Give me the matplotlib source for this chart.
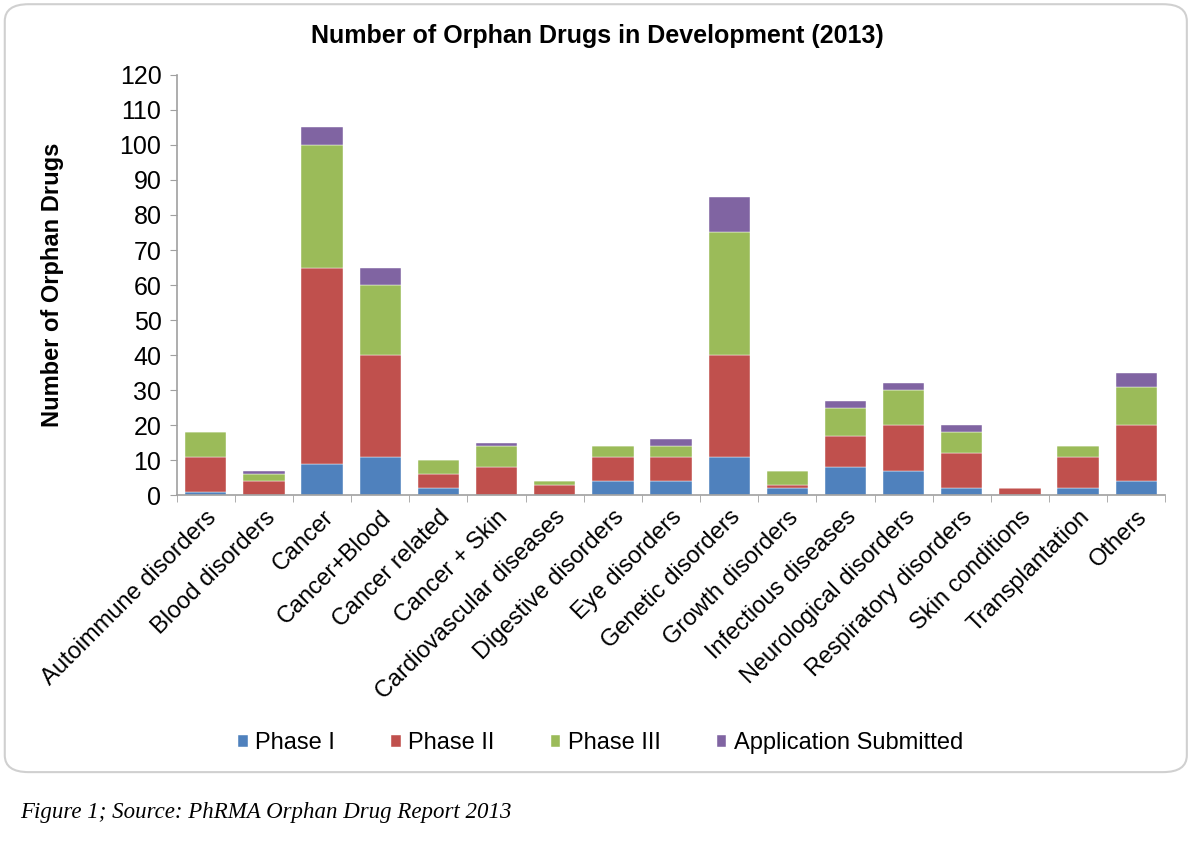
import matplotlib
matplotlib.use("Agg")
import matplotlib.pyplot as plt
import numpy as np
from matplotlib.patches import FancyBboxPatch

categories = ["Autoimmune disorders", "Blood disorders", "Cancer", "Cancer+Blood",
              "Cancer related", "Cancer + Skin", "Cardiovascular diseases",
              "Digestive disorders", "Eye disorders", "Genetic disorders",
              "Growth disorders", "Infectious diseases", "Neurological disorders",
              "Respiratory disorders", "Skin conditions", "Transplantation", "Others"]
phase1 = [1, 0, 9, 11, 2, 0, 0, 4, 4, 11, 2, 8, 7, 2, 0, 2, 4]
phase2 = [10, 4, 56, 29, 4, 8, 3, 7, 7, 29, 1, 9, 13, 10, 2, 9, 16]
phase3 = [7, 2, 35, 20, 4, 6, 1, 3, 3, 35, 4, 8, 10, 6, 0, 3, 11]
submitted = [0, 1, 5, 5, 0, 1, 0, 0, 2, 10, 0, 2, 2, 2, 0, 0, 4]

series = [("Phase I", phase1, "#4F81BD"),
          ("Phase II", phase2, "#C0504D"),
          ("Phase III", phase3, "#9BBB59"),
          ("Application Submitted", submitted, "#8064A2")]

plt.rcParams['font.family'] = ['Liberation Sans', 'DejaVu Sans']

fig = plt.figure(figsize=(11.94, 8.42), dpi=100)

# rounded frame round the chart, behind everything
box = FancyBboxPatch((0.004, 0.083), 0.99, 0.912, boxstyle="round,pad=0,rounding_size=0.02",
                     transform=fig.transFigure, facecolor="white", edgecolor="#d0d0d0",
                     linewidth=1.5, zorder=-5)
fig.patches.append(box)

ax = fig.add_axes([0.148, 0.412, 0.828, 0.499])
ax.set_facecolor("none")
ax.set_zorder(2)

x = np.arange(len(categories))
bottom = np.zeros(len(categories))
for name, vals, col in series:
    ax.bar(x, vals, 0.71, bottom=bottom, color=col, label=name,
           edgecolor="white", linewidth=0.3)
    bottom += np.array(vals)

ax.set_xlim(-0.5, len(categories) - 0.5)
ax.set_ylim(0, 120)
ax.set_yticks(np.arange(0, 121, 10))
ax.tick_params(axis='y', labelsize=18, length=5, color="#a0a0a0", direction='out', pad=6)
ax.set_xticks(x)
ax.set_xticklabels(categories, rotation=45, ha='right', rotation_mode='anchor', fontsize=17)
ax.tick_params(axis='x', length=0, pad=8)
ax.set_xticks(np.arange(-0.5, len(categories), 1), minor=True)
ax.tick_params(axis='x', which='minor', length=5, color="#a0a0a0")

for s in ['top', 'right']:
    ax.spines[s].set_visible(False)
for s in ['left', 'bottom']:
    ax.spines[s].set_color("#a0a0a0")
    ax.spines[s].set_linewidth(1.2)

ax.set_ylabel("Number of Orphan Drugs", fontsize=17, fontweight='bold', labelpad=40)
fig.text(0.5, 0.957, "Number of Orphan Drugs in Development (2013)", ha='center', va='center',
         fontsize=18, fontweight='bold')

fig.legend(loc='center', bbox_to_anchor=(0.503, 0.117), ncol=4, frameon=False, fontsize=17,
           handlelength=0.4, handleheight=0.4, handletextpad=0.3, columnspacing=2.4)

fig.text(0.017, 0.035, "Figure 1; Source: PhRMA Orphan Drug Report 2013", ha='left', va='center',
         fontsize=16.5, style='italic', family=['Liberation Serif', 'DejaVu Serif'])

fig.savefig("out.png", dpi=100)
